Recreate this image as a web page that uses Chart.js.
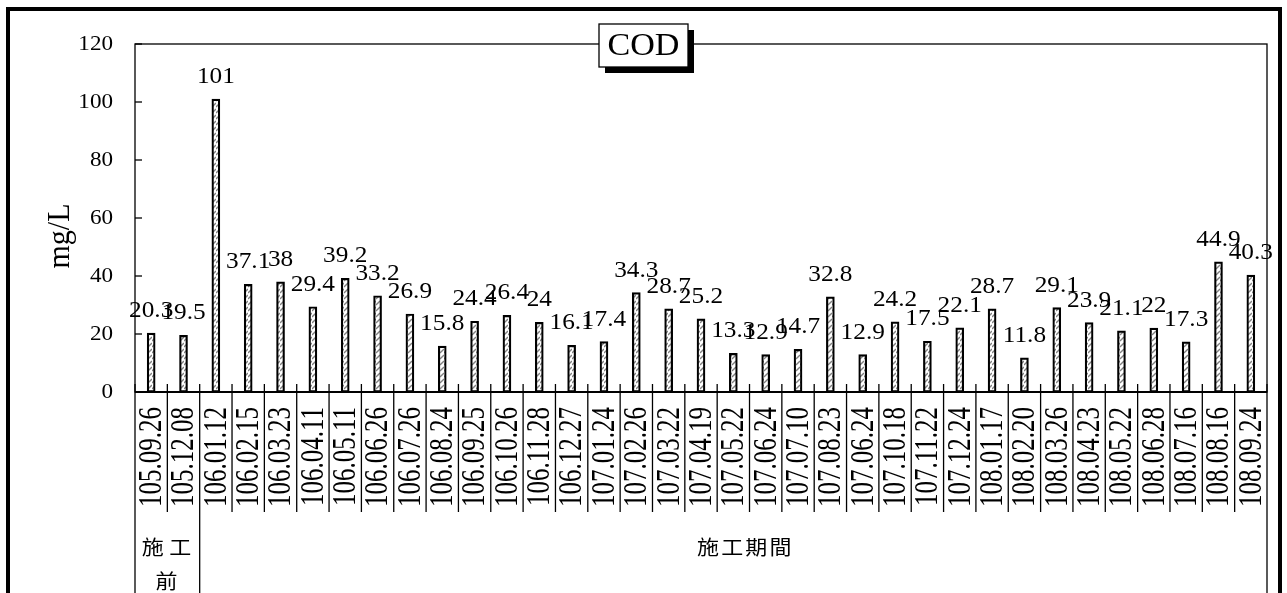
<!DOCTYPE html>
<html>
<head>
<meta charset="utf-8">
<script src="https://cdn.jsdelivr.net/npm/chart.js@4.4.1/dist/chart.umd.min.js"></script>
<style>
  html, body { margin: 0; padding: 0; background: #fff; overflow: hidden; }
  #wrap { width: 1287px; height: 593px; position: relative; }
</style>
</head>
<body>
<div id="wrap"><canvas id="codChart" width="1287" height="593"></canvas></div>
<script>
// --- DATA ---
const categories = [
  '105.09.26', '105.12.08', '106.01.12', '106.02.15', '106.03.23', '106.04.11', '106.05.11',
  '106.06.26', '106.07.26', '106.08.24', '106.09.25', '106.10.26', '106.11.28', '106.12.27',
  '107.01.24', '107.02.26', '107.03.22', '107.04.19', '107.05.22', '107.06.24', '107.07.10',
  '107.08.23', '107.06.24', '107.10.18', '107.11.22', '107.12.24', '108.01.17', '108.02.20',
  '108.03.26', '108.04.23', '108.05.22', '108.06.28', '108.07.16', '108.08.16', '108.09.24'
];
const codValues = [
  20.3, 19.5, 101, 37.1, 38, 29.4, 39.2,
  33.2, 26.9, 15.8, 24.4, 26.4, 24, 16.1,
  17.4, 34.3, 28.7, 25.2, 13.3, 12.9, 14.7,
  32.8, 12.9, 24.2, 17.5, 22.1, 28.7, 11.8,
  29.1, 23.9, 21.1, 22, 17.3, 44.9, 40.3
];
const yTickValues = [0, 20, 40, 60, 80, 100, 120];
const groupLabels = [['施工', '前'], ['施工期間']];
const groupSizes = [2, 33];
const chartTitle = 'COD';
const yTitle = 'mg/L';

const SERIF = '"Liberation Serif", "Times New Roman", serif';
const CJK = '"Noto Sans CJK TC", "Noto Sans CJK JP", sans-serif';

// hatched fill for bars
function makePattern() {
  const p = document.createElement('canvas');
  p.width = 4; p.height = 6;
  const g = p.getContext('2d');
  g.fillStyle = '#fff'; g.fillRect(0, 0, 4, 6);
  g.strokeStyle = '#808080'; g.lineWidth = 1.3;
  g.beginPath(); g.moveTo(0, 5); g.lineTo(4, 1); g.stroke();
  return g.createPattern(p, 'repeat');
}

// text slightly stretched sideways, like the source picture
function stretchText(ctx, txt, x, y, sx, vertical) {
  ctx.save();
  ctx.translate(x, y);
  ctx.scale(sx, 1);
  if (vertical) ctx.rotate(-Math.PI / 2);
  ctx.fillText(txt, 0, 0);
  ctx.restore();
}

const decor = {
  id: 'decor',
  afterDraw(chart) {
    const ctx = chart.ctx, ca = chart.chartArea;
    const xs = chart.scales.x, ys = chart.scales.y;
    const n = categories.length;
    ctx.save();
    ctx.fillStyle = '#000'; ctx.strokeStyle = '#000';

    // plot box + axis
    ctx.lineWidth = 1.3;
    ctx.strokeRect(ca.left, ca.top, ca.right - ca.left, ca.bottom - ca.top);
    ctx.lineWidth = 2;
    ctx.beginPath(); ctx.moveTo(ca.left, ca.bottom); ctx.lineTo(ca.right, ca.bottom); ctx.stroke();

    // y ticks + labels
    ctx.lineWidth = 1.3;
    ctx.font = '21px ' + SERIF;
    ctx.textAlign = 'right'; ctx.textBaseline = 'middle';
    yTickValues.forEach(v => {
      const y = ys.getPixelForValue(v);
      ctx.beginPath(); ctx.moveTo(ca.left, y); ctx.lineTo(ca.left + 7, y); ctx.stroke();
      stretchText(ctx, String(v), ca.left - 22, y, 1.1, false);
    });

    // category boundaries: ticks up, dividers down
    const bounds = [];
    for (let i = 0; i <= n; i++) {
      if (i === 0) bounds.push(ca.left);
      else if (i === n) bounds.push(ca.right);
      else bounds.push((xs.getPixelForValue(i - 1) + xs.getPixelForValue(i)) / 2);
    }
    const groupEdges = [0];
    groupSizes.reduce((acc, s) => { groupEdges.push(acc + s); return acc + s; }, 0);
    bounds.forEach((bx, i) => {
      const full = groupEdges.includes(i);
      ctx.beginPath();
      ctx.moveTo(bx, ca.bottom - 8);
      ctx.lineTo(bx, full ? chart.height + 5 : 512);
      ctx.stroke();
    });

    // x labels, reading bottom to top
    ctx.font = '25px ' + SERIF;
    ctx.textAlign = 'right'; ctx.textBaseline = 'middle';
    categories.forEach((c, i) => {
      stretchText(ctx, c, xs.getPixelForValue(i) + 1, 407, 1.35, true);
    });

    // value labels above bars
    ctx.font = '23px ' + SERIF;
    ctx.textAlign = 'center'; ctx.textBaseline = 'alphabetic';
    chart.getDatasetMeta(0).data.forEach((el, i) => {
      stretchText(ctx, String(codValues[i]), el.x, el.y - 16, 1.1, false);
    });

    // group labels
    ctx.font = '20px ' + CJK;
    ctx.textAlign = 'center'; ctx.textBaseline = 'middle';
    groupLabels.forEach((lines, g) => {
      const cx = (bounds[groupEdges[g]] + bounds[groupEdges[g + 1]]) / 2;
      lines.forEach((ln, k) => {
        ctx.save();
        ctx.letterSpacing = g === 0 ? '5px' : '2px';
        stretchText(ctx, ln, cx + (g === 0 ? 2 : 12), 547 + k * 34, 1.1, false);
        ctx.restore();
      });
    });

    // axis title
    ctx.font = '30px ' + SERIF;
    ctx.textAlign = 'center'; ctx.textBaseline = 'middle';
    stretchText(ctx, yTitle, 61, 236, 1.05, true);

    // title box with shadow
    const bw = 89, bh = 43, bx0 = chart.width / 2 - bw / 2, by0 = 24;
    ctx.fillRect(bx0 + 6, by0 + 6, bw, bh);
    ctx.fillStyle = '#fff';
    ctx.fillRect(bx0, by0, bw, bh);
    ctx.lineWidth = 1.3;
    ctx.strokeRect(bx0, by0, bw, bh);
    ctx.fillStyle = '#000';
    ctx.font = '31px ' + SERIF;
    stretchText(ctx, chartTitle, bx0 + bw / 2, by0 + bh / 2 + 1, 1.1, false);

    // outer frame
    ctx.lineWidth = 4;
    ctx.strokeRect(8, 9, chart.width - 15, chart.height + 20);
    ctx.restore();
  }
};

new Chart(document.getElementById('codChart').getContext('2d'), {
  type: 'bar',
  data: {
    labels: categories,
    datasets: [{
      data: codValues,
      backgroundColor: makePattern(),
      borderColor: '#000',
      borderWidth: 2.2,
      borderSkipped: false,
      barThickness: 8
    }]
  },
  options: {
    responsive: false,
    animation: false,
    layout: { padding: { left: 135, top: 44, right: 20, bottom: 201 } },
    plugins: { legend: { display: false }, tooltip: { enabled: false } },
    scales: {
      x: { display: false },
      y: { display: false, min: 0, max: 120, ticks: { stepSize: 20 } }
    }
  },
  plugins: [decor]
});
</script>
</body>
</html>
